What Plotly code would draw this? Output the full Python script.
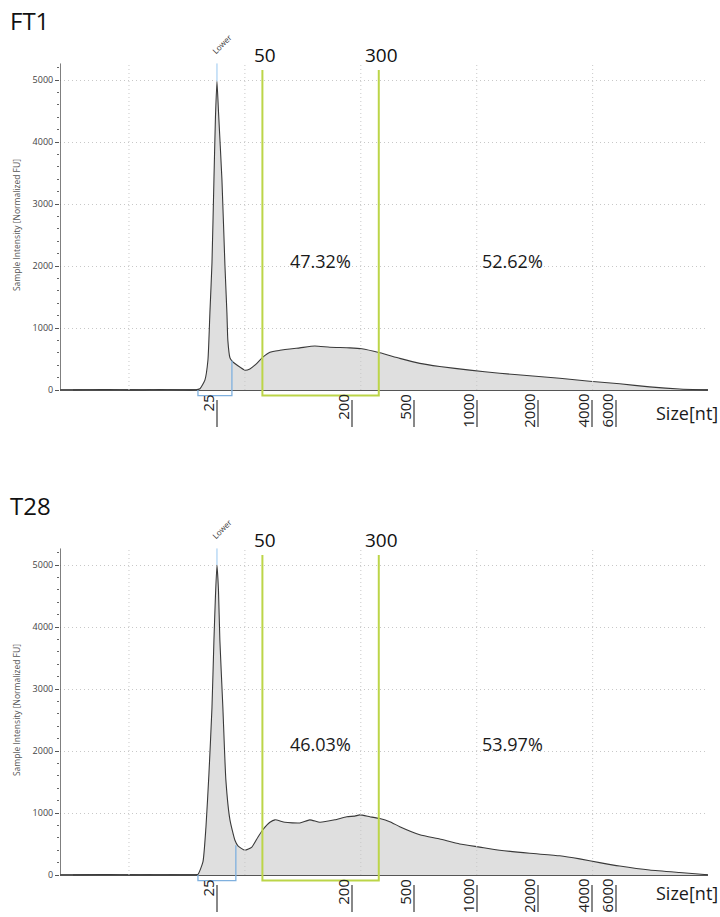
import plotly.graph_objects as go

# ---------------- data ----------------
PANEL_NAMES = ["FT1", "T28"]

# x = relative migration position (gridline units), y = Sample Intensity [Normalized FU]
FT1_X = [0.517, 0.75, 0.922, 1.10, 1.267, 1.45, 1.569, 1.612, 1.655, 1.681, 1.698, 1.716, 1.733,
         1.746, 1.759, 1.772, 1.802, 1.828, 1.845, 1.853, 1.871, 1.888, 1.940, 2.0, 2.043, 2.086,
         2.155, 2.216, 2.302, 2.474, 2.603, 2.733, 2.905, 3.009, 3.164, 3.336, 3.509, 3.681,
         3.940, 4.198, 4.457, 4.716, 4.974, 5.233, 5.491, 5.750, 5.991]
FT1_Y = [0, 8, 5, 0, 6, 0, 0, 20, 160, 480, 1240, 2050, 3390,
         4400, 4980, 4500, 3390, 2000, 1240, 800, 520, 470, 390, 320, 340, 400,
         530, 610, 640, 680, 710, 690, 680, 665, 600, 510, 430, 380,
         320, 270, 230, 190, 140, 100, 50, 15, 0]

T28_X = [0.517, 0.75, 0.922, 1.10, 1.267, 1.45, 1.569, 1.595, 1.638, 1.664, 1.690, 1.716, 1.733,
         1.746, 1.759, 1.772, 1.784, 1.810, 1.836, 1.871, 1.914, 1.940, 2.0, 2.060, 2.112, 2.155,
         2.216, 2.259, 2.345, 2.474, 2.560, 2.647, 2.776, 2.879, 2.948, 2.991, 3.078, 3.164,
         3.250, 3.336, 3.509, 3.681, 3.853, 4.026, 4.198, 4.457, 4.716, 4.888, 5.060, 5.233,
         5.491, 5.750, 5.991]
T28_Y = [0, 6, 5, 0, 5, 0, 0, 10, 210, 770, 1640, 2700, 3790,
         4500, 5000, 4600, 3790, 2700, 1530, 890, 560, 470, 400, 450, 610, 730,
         850, 890, 850, 840, 890, 850, 890, 940, 950, 970, 940, 910,
         860, 780, 650, 580, 500, 450, 400, 350, 310, 260, 200, 145,
         80, 40, 5]

SIZE_TICK_POS = [1.759, 2.922, 3.457, 4.0, 4.526, 4.991, 5.198]
SIZE_TICK_LABELS = ["25", "200", "500", "1000", "2000", "4000", "6000"]
Y_TICKS = [0, 1000, 2000, 3000, 4000, 5000]
GRID_X = [1, 2, 3, 4, 5]

LOWER_POS = 1.759
REGION_BOUNDS = [2.151, 3.155]
REGION_LABELS = ["50", "300"]
LOWER_SPAN = {"FT1": [1.595, 1.888], "T28": [1.595, 1.922]}
LOWER_SPAN_TOP = {"FT1": 470, "T28": 480}
PEAK_HEIGHT = {"FT1": 4980, "T28": 5000}
PERCENTS = {"FT1": ["47.32%", "52.62%"], "T28": ["46.03%", "53.97%"]}
PERCENT_POS = [2.65, 4.31]

# ---------------- layout constants ----------------
W, H = 720, 917
X_RANGE = [0.405, 5.995]
Y_RANGE = [-150, 5270]
X_DOMAIN = [60 / W, 708 / W]
Y_DOMAINS = [[1 - 399.3 / H, 1 - 63.3 / H], [1 - 884.3 / H, 1 - 548.3 / H]]

FONT = "Open Sans"
GREEN = "#bcd548"
BLUE = "#7fb0de"
LIGHTBLUE = "#a9d0f2"
GRID = "#c8c8c8"


def dom(v):
    """value on the intensity scale -> fraction of the y-axis domain"""
    return (v - Y_RANGE[0]) / (Y_RANGE[1] - Y_RANGE[0])


fig = go.Figure()
shapes = []
annotations = []

series = {"FT1": (FT1_X, FT1_Y), "T28": (T28_X, T28_Y)}
size_label_y = {"FT1": -370, "T28": -290}
percent_y = {"FT1": 2080, "T28": 2110}

for i, name in enumerate(PANEL_NAMES):
    n = "" if i == 0 else str(i + 1)
    xr, yr = "x" + n, "y" + n
    yd = yr + " domain"
    xs, ys = series[name]
    fig.add_trace(go.Scatter(
        x=xs, y=ys, mode="lines", fill="tozeroy",
        fillcolor="#dfdfdf", line=dict(color="#3a3a3a", width=1.1, shape="spline", smoothing=0.5),
        xaxis=xr, yaxis=yr, showlegend=False, hoverinfo="skip"))

    # vertical dotted gridlines (from 0 to top)
    for gx in GRID_X:
        shapes.append(dict(type="line", xref=xr, yref=yr, x0=gx, x1=gx, y0=0, y1=Y_RANGE[1],
                           line=dict(color=GRID, width=1, dash="1px,3px"), layer="above"))
    # y axis line
    shapes.append(dict(type="line", xref=xr, yref=yr, x0=X_RANGE[0], x1=X_RANGE[0], y0=0,
                       y1=Y_RANGE[1], line=dict(color="#555555", width=1.5)))
    # lower marker line
    shapes.append(dict(type="line", xref=xr, yref=yr, x0=LOWER_POS, x1=LOWER_POS,
                       y0=PEAK_HEIGHT[name], y1=Y_RANGE[1], line=dict(color=LIGHTBLUE, width=1.2)))
    # lower marker bracket
    l0, l1 = LOWER_SPAN[name]
    shapes.append(dict(type="path", xref=xr, yref=yr,
                       path=f"M {l0},0 L {l0},-90 L {l1},-90 L {l1},{LOWER_SPAN_TOP[name]}",
                       line=dict(color=BLUE, width=1.3)))
    # region bracket (50 - 300)
    r0, r1 = REGION_BOUNDS
    shapes.append(dict(type="path", xref=xr, yref=yr,
                       path=f"M {r0},5160 L {r0},-90 L {r1},-90 L {r1},5160",
                       line=dict(color=GREEN, width=2)))

    # size tick labels
    for pos, lab in zip(SIZE_TICK_POS, SIZE_TICK_LABELS):
        annotations.append(dict(xref=xr, yref=yd, x=pos, y=dom(0), text=lab, showarrow=False,
                                textangle=-90, xanchor="center", yanchor="top",
                                xshift=-9, yshift=-2,
                                font=dict(family=FONT, size=15, color="#222222")))
    # region labels
    for pos, lab in zip(REGION_BOUNDS, REGION_LABELS):
        annotations.append(dict(xref=xr, yref=yd, x=pos, y=dom(5400), text=lab, showarrow=False,
                                xshift=3, xanchor="center", yanchor="middle",
                                font=dict(family=FONT, size=19, color="#111111")))
    # Lower label
    annotations.append(dict(xref=xr, yref=yd, x=LOWER_POS, y=dom(5590), text="Lower",
                            showarrow=False, textangle=-45, xshift=5,
                            xanchor="center", yanchor="middle",
                            font=dict(family=FONT, size=8, color="#333333")))
    # percentages
    for pos, lab in zip(PERCENT_POS, PERCENTS[name]):
        annotations.append(dict(xref=xr, yref=yd, x=pos, y=dom(percent_y[name]), text=lab,
                                showarrow=False, xanchor="center", yanchor="middle",
                                font=dict(family=FONT, size=18, color="#1a1a1a")))
    # Size[nt]
    annotations.append(dict(xref=xr, yref=yd, x=5.81, y=dom(size_label_y[name]), text="Size[nt]",
                            showarrow=False, xanchor="center", yanchor="middle",
                            font=dict(family=FONT, size=18, color="#1a1a1a")))
    # panel title
    annotations.append(dict(xref="paper", yref=yd, x=8 / W, y=dom(5960), text=name,
                            showarrow=False, xanchor="left", yanchor="middle",
                            font=dict(family=FONT, size=24, color="#111111")))
    # y axis title
    annotations.append(dict(xref="paper", yref=yd, x=16 / W, y=dom(2660), xanchor="center",
                            yanchor="middle",
                            text="Sample Intensity [Normalized FU]", showarrow=False,
                            textangle=-90, font=dict(family=FONT, size=8.5, color="#555555")))

    xa = dict(domain=X_DOMAIN, range=X_RANGE, anchor=yr, showgrid=False, zeroline=False,
              showline=False, tickmode="array", tickvals=SIZE_TICK_POS,
              ticktext=[""] * len(SIZE_TICK_POS), showticklabels=False,
              ticks="outside", ticklen=27, tickwidth=1.5, tickcolor="#888888", fixedrange=True)
    ya = dict(domain=Y_DOMAINS[i], range=Y_RANGE, anchor=xr, showgrid=True, gridcolor=GRID,
              griddash="1px,3px", gridwidth=1, zeroline=True, zerolinecolor="#555555",
              zerolinewidth=1.6, showline=False, tickmode="array", tickvals=Y_TICKS,
              ticks="outside", ticklen=4, tickcolor="#555555",
              tickfont=dict(family=FONT, size=9, color="#444444"),
              minor=dict(ticks="outside", ticklen=2, dtick=200, tick0=0, tickcolor="#666666",
                         showgrid=False),
              fixedrange=True)
    fig.update_layout({"xaxis" + n: xa, "yaxis" + n: ya})

fig.update_layout(width=W, height=H, margin=dict(l=0, r=0, t=0, b=0),
                  paper_bgcolor="white", plot_bgcolor="white", showlegend=False,
                  shapes=shapes, annotations=annotations, font=dict(family=FONT))

fig.write_html("out.html", config={"displayModeBar": False},
               post_script="document.body.style.margin='0';document.body.style.overflow='hidden';")
